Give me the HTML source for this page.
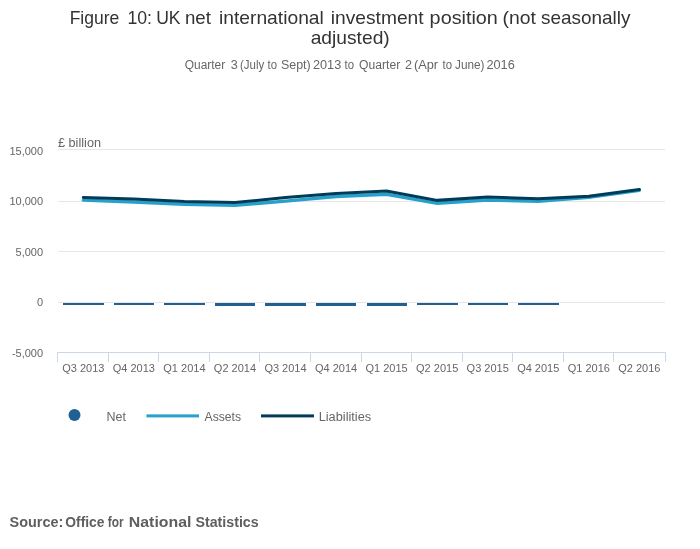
<!DOCTYPE html><html><head><meta charset="utf-8"><style>html,body{margin:0;padding:0;background:#fff;overflow:hidden}svg{display:block;will-change:transform}text{font-family:"Liberation Sans",sans-serif}</style></head><body>
<svg width="700" height="549" viewBox="0 0 700 549">
<rect width="700" height="549" fill="#fff"/>
<text x="69.65" y="23.9" font-size="18.5" fill="#333333" textLength="49.68" lengthAdjust="spacingAndGlyphs">Figure</text>
<text x="127.44" y="23.9" font-size="18.5" fill="#333333" textLength="24.60" lengthAdjust="spacingAndGlyphs">10:</text>
<text x="156.15" y="23.9" font-size="18.5" fill="#333333" textLength="24.42" lengthAdjust="spacingAndGlyphs">UK</text>
<text x="184.99" y="23.9" font-size="18.5" fill="#333333" textLength="25.92" lengthAdjust="spacingAndGlyphs">net</text>
<text x="218.96" y="23.9" font-size="18.5" fill="#333333" textLength="104.87" lengthAdjust="spacingAndGlyphs">international</text>
<text x="330.76" y="23.9" font-size="18.5" fill="#333333" textLength="92.82" lengthAdjust="spacingAndGlyphs">investment</text>
<text x="429.63" y="23.9" font-size="18.5" fill="#333333" textLength="68.19" lengthAdjust="spacingAndGlyphs">position</text>
<text x="502.45" y="23.9" font-size="18.5" fill="#333333" textLength="33.43" lengthAdjust="spacingAndGlyphs">(not</text>
<text x="540.98" y="23.9" font-size="18.5" fill="#333333" textLength="89.45" lengthAdjust="spacingAndGlyphs">seasonally</text>
<text x="310.66" y="44" font-size="18.5" fill="#333333" textLength="79.09" lengthAdjust="spacingAndGlyphs">adjusted)</text>
<text x="184.80" y="69.2" font-size="12" fill="#666666" textLength="40.39" lengthAdjust="spacingAndGlyphs">Quarter</text>
<text x="230.82" y="69.2" font-size="12" fill="#666666" textLength="7.02" lengthAdjust="spacingAndGlyphs">3</text>
<text x="240.04" y="69.2" font-size="12" fill="#666666" textLength="24.29" lengthAdjust="spacingAndGlyphs">(July</text>
<text x="267.55" y="69.2" font-size="12" fill="#666666" textLength="9.51" lengthAdjust="spacingAndGlyphs">to</text>
<text x="280.96" y="69.2" font-size="12" fill="#666666" textLength="29.75" lengthAdjust="spacingAndGlyphs">Sept)</text>
<text x="312.94" y="69.2" font-size="12" fill="#666666" textLength="28.31" lengthAdjust="spacingAndGlyphs">2013</text>
<text x="344.50" y="69.2" font-size="12" fill="#666666" textLength="9.51" lengthAdjust="spacingAndGlyphs">to</text>
<text x="359.00" y="69.2" font-size="12" fill="#666666" textLength="41.18" lengthAdjust="spacingAndGlyphs">Quarter</text>
<text x="405.07" y="69.2" font-size="12" fill="#666666" textLength="7.02" lengthAdjust="spacingAndGlyphs">2</text>
<text x="413.93" y="69.2" font-size="12" fill="#666666" textLength="24.22" lengthAdjust="spacingAndGlyphs">(Apr</text>
<text x="442.50" y="69.2" font-size="12" fill="#666666" textLength="9.51" lengthAdjust="spacingAndGlyphs">to</text>
<text x="455.00" y="69.2" font-size="12" fill="#666666" textLength="29.51" lengthAdjust="spacingAndGlyphs">June)</text>
<text x="486.44" y="69.2" font-size="12" fill="#666666" textLength="28.31" lengthAdjust="spacingAndGlyphs">2016</text>
<text x="9.57" y="526.7" font-size="14" font-weight="bold" fill="#5f5f5f" textLength="53.69" lengthAdjust="spacingAndGlyphs">Source:</text>
<text x="65.31" y="526.7" font-size="14" font-weight="bold" fill="#5f5f5f" textLength="39.17" lengthAdjust="spacingAndGlyphs">Office</text>
<text x="107.83" y="526.7" font-size="14" font-weight="bold" fill="#5f5f5f" textLength="15.87" lengthAdjust="spacingAndGlyphs">for</text>
<text x="128.87" y="526.7" font-size="14" font-weight="bold" fill="#5f5f5f" textLength="62.53" lengthAdjust="spacingAndGlyphs">National</text>
<text x="195.49" y="526.7" font-size="14" font-weight="bold" fill="#5f5f5f" textLength="63.17" lengthAdjust="spacingAndGlyphs">Statistics</text>
<text x="58" y="146.6" font-size="12" fill="#666666" textLength="43" lengthAdjust="spacingAndGlyphs">£ billion</text>
<rect x="58" y="149" width="607" height="1" fill="#e6e6e6"/>
<rect x="58" y="201" width="607" height="1" fill="#e6e6e6"/>
<rect x="58" y="251" width="607" height="1" fill="#e6e6e6"/>
<rect x="58" y="302" width="607" height="1" fill="#e6e6e6"/>
<rect x="58" y="352" width="607" height="1" fill="#e6e6e6"/>
<rect x="57" y="352" width="609" height="1" fill="#ccd6eb"/>
<rect x="57" y="352" width="1" height="10" fill="#ccd6eb"/>
<rect x="108" y="352" width="1" height="10" fill="#ccd6eb"/>
<rect x="158" y="352" width="1" height="10" fill="#ccd6eb"/>
<rect x="209" y="352" width="1" height="10" fill="#ccd6eb"/>
<rect x="259" y="352" width="1" height="10" fill="#ccd6eb"/>
<rect x="310" y="352" width="1" height="10" fill="#ccd6eb"/>
<rect x="361" y="352" width="1" height="10" fill="#ccd6eb"/>
<rect x="411" y="352" width="1" height="10" fill="#ccd6eb"/>
<rect x="462" y="352" width="1" height="10" fill="#ccd6eb"/>
<rect x="512" y="352" width="1" height="10" fill="#ccd6eb"/>
<rect x="563" y="352" width="1" height="10" fill="#ccd6eb"/>
<rect x="613" y="352" width="1" height="10" fill="#ccd6eb"/>
<rect x="665" y="352" width="1" height="10" fill="#ccd6eb"/>
<text x="43.1" y="154.8" text-anchor="end" font-size="11" fill="#666666">15,000</text>
<text x="43.1" y="204.8" text-anchor="end" font-size="11" fill="#666666">10,000</text>
<text x="43.1" y="255.6" text-anchor="end" font-size="11" fill="#666666">5,000</text>
<text x="43.1" y="305.7" text-anchor="end" font-size="11" fill="#666666">0</text>
<text x="43.1" y="356.6" text-anchor="end" font-size="11" fill="#666666">-5,000</text>
<text x="83.30" y="371.9" text-anchor="middle" font-size="11" fill="#666666">Q3 2013</text>
<text x="133.85" y="371.9" text-anchor="middle" font-size="11" fill="#666666">Q4 2013</text>
<text x="184.40" y="371.9" text-anchor="middle" font-size="11" fill="#666666">Q1 2014</text>
<text x="234.95" y="371.9" text-anchor="middle" font-size="11" fill="#666666">Q2 2014</text>
<text x="285.50" y="371.9" text-anchor="middle" font-size="11" fill="#666666">Q3 2014</text>
<text x="336.05" y="371.9" text-anchor="middle" font-size="11" fill="#666666">Q4 2014</text>
<text x="386.60" y="371.9" text-anchor="middle" font-size="11" fill="#666666">Q1 2015</text>
<text x="437.15" y="371.9" text-anchor="middle" font-size="11" fill="#666666">Q2 2015</text>
<text x="487.70" y="371.9" text-anchor="middle" font-size="11" fill="#666666">Q3 2015</text>
<text x="538.25" y="371.9" text-anchor="middle" font-size="11" fill="#666666">Q4 2015</text>
<text x="588.80" y="371.9" text-anchor="middle" font-size="11" fill="#666666">Q1 2016</text>
<text x="639.35" y="371.9" text-anchor="middle" font-size="11" fill="#666666">Q2 2016</text>
<rect x="63" y="303" width="41" height="2" fill="#206095"/>
<rect x="114" y="303" width="40" height="2" fill="#206095"/>
<rect x="164" y="303" width="41" height="2" fill="#206095"/>
<rect x="215" y="303" width="40" height="3" fill="#206095"/>
<rect x="265" y="303" width="41" height="3" fill="#206095"/>
<rect x="316" y="303" width="40" height="3" fill="#206095"/>
<rect x="367" y="303" width="40" height="3" fill="#206095"/>
<rect x="417" y="303" width="41" height="2" fill="#206095"/>
<rect x="468" y="303" width="40" height="2" fill="#206095"/>
<rect x="518" y="303" width="41" height="2" fill="#206095"/>
<polyline points="83.30,200.10 133.85,201.96 184.40,204.40 234.95,205.27 285.50,201.10 336.05,196.44 386.60,194.30 437.15,203.30 487.70,200.00 538.25,201.27 588.80,197.40 639.35,190.20" fill="none" stroke="#27a0cc" stroke-width="3.4" stroke-linejoin="miter" stroke-linecap="round"/>
<polyline points="83.30,197.58 133.85,199.00 184.40,201.58 234.95,202.53 285.50,197.52 336.05,193.40 386.60,191.00 437.15,200.37 487.70,197.10 538.25,198.67 588.80,196.27 639.35,189.60" fill="none" stroke="#003c57" stroke-width="3" stroke-linejoin="miter" stroke-linecap="round"/>
<circle cx="74.5" cy="415.1" r="6" fill="#206095"/>
<text x="106.6" y="420.9" font-size="12.5" fill="#666666">Net</text>
<rect x="146.5" y="414.4" width="52.5" height="3" fill="#27a0cc"/>
<text x="204.5" y="420.9" font-size="12.5" fill="#666666" textLength="36.6" lengthAdjust="spacingAndGlyphs">Assets</text>
<rect x="261" y="414.4" width="53" height="3" fill="#003c57"/>
<text x="318.7" y="420.6" font-size="12.5" fill="#666666" textLength="52.5" lengthAdjust="spacingAndGlyphs">Liabilities</text>
</svg></body></html>
